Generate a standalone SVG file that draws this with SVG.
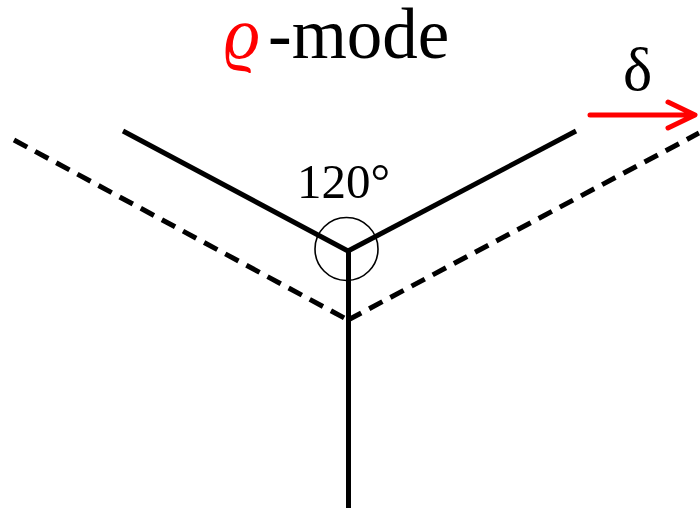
<svg xmlns="http://www.w3.org/2000/svg" width="700" height="510" viewBox="0 0 700 510">
<style>
.solid{stroke:#000;stroke-width:5;fill:none}
.dash{stroke:#000;stroke-width:5;fill:none;stroke-dasharray:15 9}
.lbl{font-family:"Liberation Serif","Times New Roman",serif;fill:#000}
</style>
<rect width="700" height="510" fill="#fff"/>
<g id="title">
<text class="lbl" x="224" y="58" font-size="71"><tspan fill="#ff0000" font-style="italic">ϱ</tspan><tspan x="268">-mode</tspan></text>
</g>
<g id="connectors">
<line id="dash-left" class="dash" x1="14" y1="140" x2="348" y2="320"/>
<line id="dash-right" class="dash" x1="348" y1="320" x2="699" y2="133"/>
<line id="solid-left" class="solid" x1="123" y1="131" x2="348" y2="251"/>
<line id="solid-right" class="solid" x1="576" y1="131" x2="348" y2="251"/>
<line id="solid-down" class="solid" x1="348.5" y1="250" x2="348.5" y2="508"/>
</g>
<g id="angle">
<circle cx="346.5" cy="249" r="31.5" fill="none" stroke="#000" stroke-width="1.6"/>
<text class="lbl" x="297" y="198" font-size="49">120°</text>
</g>
<g id="delta">
<path d="M590 115H694M668 102L695 115L668 128" fill="none" stroke="#ff0000" stroke-width="5" stroke-linecap="round" stroke-linejoin="round"/>
<text class="lbl" x="623" y="90" font-size="62">δ</text>
</g>
</svg>
